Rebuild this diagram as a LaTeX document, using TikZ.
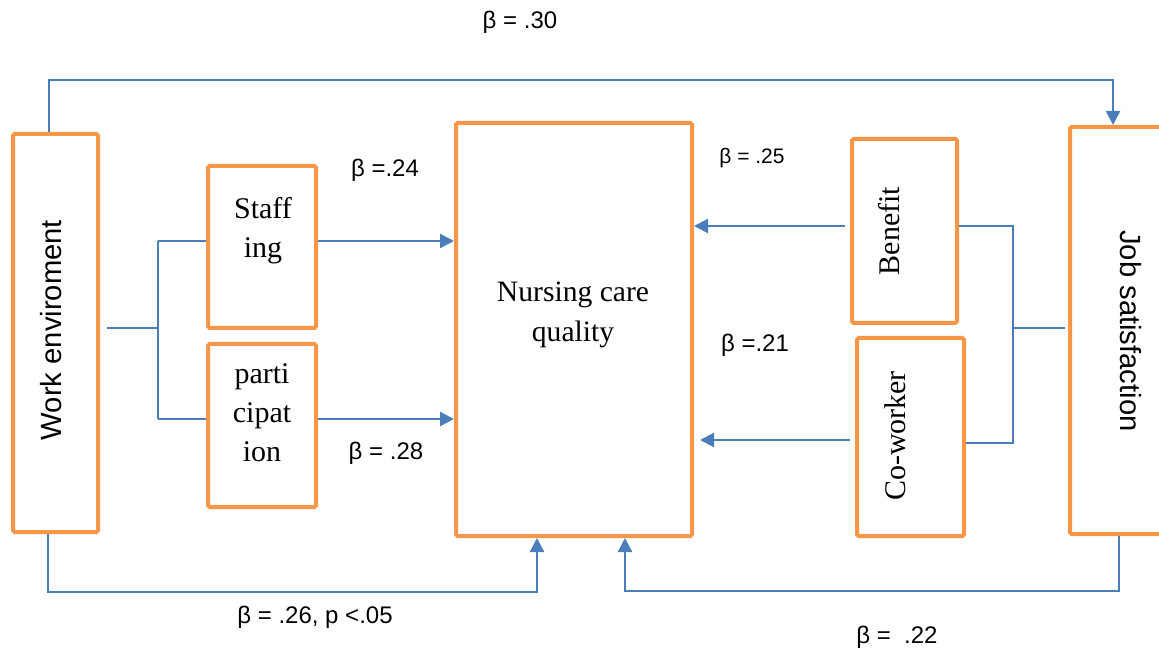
\documentclass[tikz,border=0pt]{standalone}
\usepackage{fontspec}
\setmainfont{Liberation Serif}
\setsansfont{Liberation Sans}
\usetikzlibrary{arrows.meta}
\definecolor{boxor}{HTML}{F79646}
\definecolor{linebl}{HTML}{4A7EBB}
\tikzset{
  box/.style={draw=boxor, line width=2pt, rounded corners=0.8pt, inner sep=0pt},
  conn/.style={draw=linebl, line width=1.1pt},
  arr/.style={conn, -{Triangle[length=7pt,width=7pt]}},
  serif/.style={font=\fontsize{15}{19.5}\selectfont, align=center, inner sep=0pt},
  sans/.style={font=\sffamily\fontsize{14.6}{17}\selectfont, inner sep=0pt},
  beta/.style={font=\sffamily\fontsize{12}{14}\selectfont, inner sep=0pt},
  betasm/.style={font=\sffamily\fontsize{10.5}{12}\selectfont, inner sep=0pt}
}
\begin{document}
\begin{tikzpicture}[x=0.5pt,y=-0.5pt]
\useasboundingbox (0,0) rectangle (1159,651);
\clip (0,0) rectangle (1159,651);
\fill[white] (0,0) rectangle (1159,651);
% boxes
\node[box, minimum width=42.5pt, minimum height=199pt] (work) at (55.5,333) {};
\node[box, minimum width=54pt, minimum height=81pt] (staff) at (262,247) {};
\node[box, minimum width=54pt, minimum height=81.5pt] (part) at (262,425.5) {};
\node[box, minimum width=118pt, minimum height=206.5pt] (ncq) at (574,329.5) {};
\node[box, minimum width=52.5pt, minimum height=92pt] (benefit) at (904.5,231) {};
\node[box, minimum width=53.5pt, minimum height=99pt] (cowork) at (910.5,437) {};
\node[box, minimum width=55pt, minimum height=203.5pt] (job) at (1125,330.5) {};
% texts in boxes
\node[sans, rotate=90] (workt) at (51,330) {Work enviroment};
\node[serif] (stafft) at (263,231) {Staff\\ing};
\node[serif] (partt) at (262,413) {parti\\cipat\\ion};
\node[serif, font=\fontsize{14.8}{20}\selectfont] (ncqt) at (573,315) {Nursing care\\quality};
\node[serif, rotate=90] (benefitt) at (889,231) {Benefit};
\node[serif, rotate=90] (coworkt) at (895,436) {Co-worker};
\node[sans, rotate=-90] (jobt) at (1131,331) {Job satisfaction};
% coordinates
\coordinate (tl) at (49,80);
\coordinate (tr) at (1113,80);
\coordinate (bl) at (48,592);
\coordinate (b1) at (537,592);
\coordinate (br) at (1119,591);
\coordinate (b2) at (625,591);
\coordinate (ws) at (107,328);
\coordinate (lj) at (158,328);
\coordinate (ls) at (158,241);
\coordinate (lp) at (158,419);
\coordinate (bn) at (845,226);
\coordinate (cw) at (850,440);
\coordinate (rs) at (1013,226);
\coordinate (rp) at (1013,443);
\coordinate (rj) at (1013,328);
\coordinate (re) at (1065,328);
% connectors
\draw[arr] (work.north -| tl) -- (tl) -- (tr) -- (job.north -| tr);
\draw[arr] (work.south -| bl) -- (bl) -- (b1) -- (ncq.south -| b1);
\draw[arr] (job.south -| br) -- (br) -- (b2) -- (ncq.south -| b2);
\draw[conn] (ws) -- (lj);
\draw[conn] (ls) -- (lp);
\draw[conn] (ls) -- (staff.west |- ls);
\draw[conn] (lp) -- (part.west |- lp);
\draw[arr] (staff.east |- ls) -- (ncq.west |- ls);
\draw[arr] (part.east |- lp) -- (ncq.west |- lp);
\draw[arr] (bn) -- (ncq.east |- bn);
\draw[arr] (cw) -- ([xshift=3pt]ncq.east |- cw);
\draw[conn] (benefit.east |- rs) -- (rs) -- (rp) -- (cowork.east |- rp);
\draw[conn] (rj) -- (re);
% labels
\node[beta] (l30) at (520,22) {β = .30};
\node[beta] (l24) at (385,170) {β =.24};
\node[beta] (l28) at (386,453) {β = .28};
\node[betasm] (l25) at (752,158) {β = .25};
\node[beta] (l21) at (755,345) {β =.21};
\node[beta] (l26) at (315,617) {β = .26, p <.05};
\node[beta] (l22) at (897,637) {β =\ \ .22};
\end{tikzpicture}
\end{document}
